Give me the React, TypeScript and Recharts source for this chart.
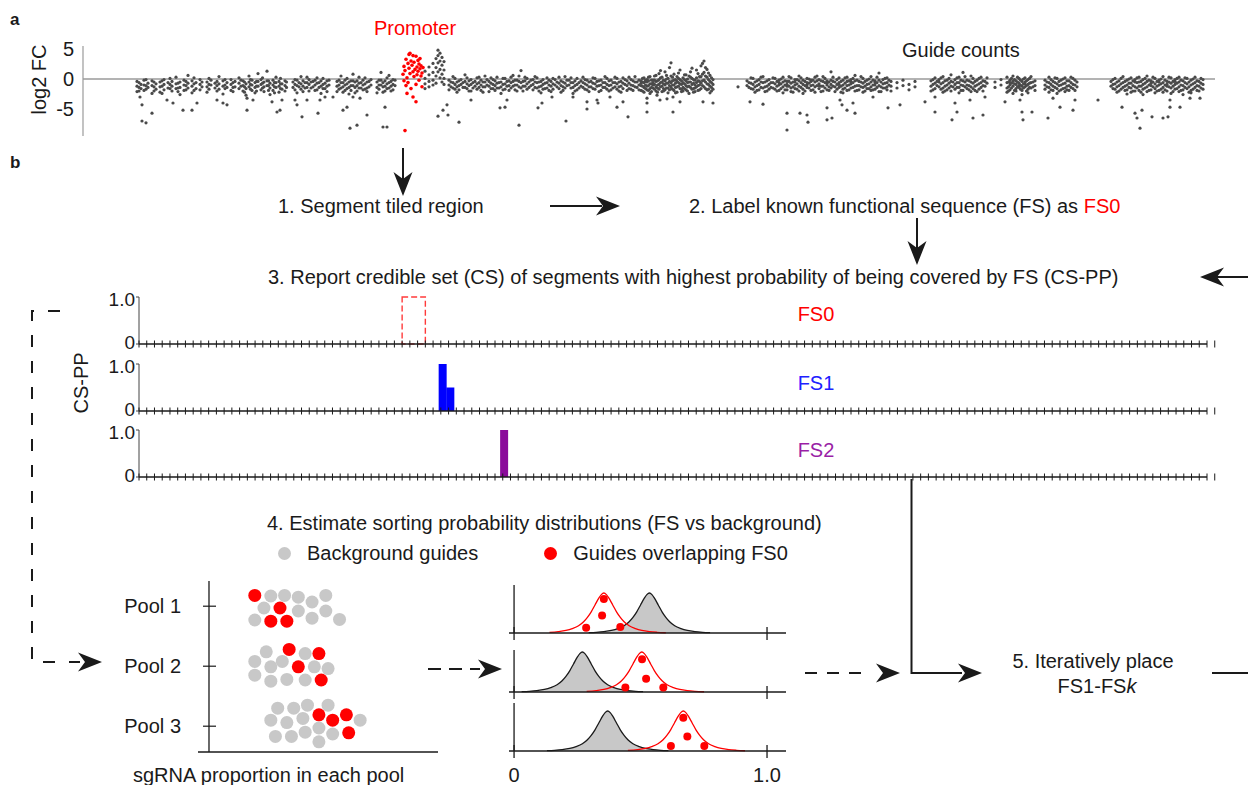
import React from 'react'
import {
  ScatterChart, Scatter, BarChart, Bar, ComposedChart, Area, Line,
  XAxis, YAxis, ReferenceLine, ReferenceArea, Legend,
} from 'recharts'

const FONT = "'Liberation Sans', Arial, Helvetica, sans-serif"
const INK = '#1a1a1a'
const RED = '#ff0000'
const GREY_DOT = '#4a4a4a'
const LIGHT = '#c8c8c8'

// a: guide log2 FC along the tiled region (position in kb), [pos, ...values]
const GUIDE_ROWS: number[][] = [
  [5.4,-0.4,-1.2,-2.1],[5.8,-0.9,-1.6],[6.1,-0.2,-1.0,-1.9],[6.5,-0.7,-1.4],[6.9,-0.3,-1.1,-2.4],[7.3,-0.8,-1.7],[7.7,-0.5,-1.3,-2.2],[8.1,-0.1,-0.9,-1.8],[8.5,-0.6,-1.5],[8.9,-0.4,-1.2,-2.0],[9.3,0.3,-0.8,-1.6],[9.7,-0.5,-1.4,-2.6],[10.1,-0.2,-1.0,-1.9],[10.5,0.6,-0.7,-1.5],[10.9,-0.3,-1.2,-2.3],[11.3,-0.6,-1.6],[11.7,-0.1,-0.9,-1.8],
  [12.4,-0.5,-1.3,-2.2],[12.8,-0.2,-1.0],[13.2,-0.7,-1.5],[13.6,0.4,-0.8,-1.7],[14.0,-0.3,-1.2,-2.5],[14.4,-0.6,-1.4],[14.8,-0.1,-0.9,-1.9],[15.2,-0.4,-1.3],[15.6,0.2,-0.7,-1.6],
  [16.0,-0.3,-1.1,-2.0],[16.3,-0.8,-1.6,-2.7],[16.6,0.5,-0.5,-1.3],[16.9,-0.2,-1.0,-1.9],[17.2,-0.6,-1.4,-2.3],[17.5,0.9,-0.4,-1.2],[17.8,-0.1,-0.9,-1.8],[18.1,-0.5,-1.3,-2.1],[18.4,1.3,-0.3,-1.1],[18.7,-0.7,-1.5,-2.6],[19.0,-0.2,-1.0,-1.9],[19.3,0.3,-0.6,-1.4],[19.6,-0.4,-1.2,-2.2],[19.9,-0.8,-1.7],[20.2,-0.3,-1.1,-2.0],
  [21.0,-0.5,-1.4],[21.4,-0.2,-1.1,-2.3],[21.8,0.4,-0.8,-1.7],[22.2,-0.6,-1.5],[22.6,-0.1,-0.9,-2.0],[23.0,-0.4,-1.3],[23.4,0.2,-0.7,-1.8],[23.8,-0.3,-1.2,-2.4],[24.2,-0.7,-1.6],[24.6,-0.2,-1.0],
  [25.4,-0.4,-1.2,-2.1],[25.8,0.5,-0.6,-1.5],[26.2,-0.2,-1.0,-1.9],[26.6,-0.5,-1.4,-2.5],[27.0,0.8,-0.3,-1.1],[27.4,-0.3,-1.1,-2.0],[27.8,-0.6,-1.5],[28.2,0.2,-0.8,-1.7],[28.6,-0.4,-1.3],
  [29.4,-0.5,-1.4,-2.3],[29.8,1.1,-0.2,-1.0],[30.2,-0.3,-1.2,-2.0],[30.6,0.6,-0.6,-1.5],[31.0,-0.1,-0.9,-1.8],
  [34.2,1.3,0.1,-0.8,-1.6],[34.6,2.0,0.7,-0.4,-1.3],[35.0,2.6,1.1,-0.2,-1.0],[35.3,3.4,1.9,0.5,-0.7],[35.5,4.8,3.9,2.7,1.2],[35.7,4.3,3.0,1.6,0.2],[35.9,3.6,2.3,0.8,-0.5],[36.1,2.9,1.5,0.1,-0.9],
  [36.6,-0.2,-1.0,-1.8],[37.0,0.4,-0.6,-1.5],[37.4,-0.5,-1.3,-2.2],[37.8,-0.1,-0.9],[38.2,0.7,-0.4,-1.4],[38.6,-0.3,-1.1,-2.0],[39.0,-0.6,-1.5],[39.4,0.2,-0.8,-1.7],[39.8,-0.2,-1.0,-1.9],[40.2,0.5,-0.5,-1.3],[40.6,-0.4,-1.2,-2.1],[41.0,-0.1,-0.9,-1.6],[41.4,0.3,-0.7,-1.5],[41.8,-0.5,-1.3,-2.4],[42.2,0.1,-0.8,-1.7],[42.6,-0.3,-1.1,-1.9],[43.0,0.6,-0.4,-1.2],[43.4,-0.2,-1.0,-2.0],[43.8,1.4,-0.6,-1.5],[44.2,0.3,-0.3,-1.2],[44.6,-0.5,-1.4],[45.0,-0.1,-0.9,-1.8],[45.4,0.2,-0.6,-1.5],[45.8,-0.4,-1.2,-2.3],[46.2,-0.7,-1.6],[46.6,-0.2,-1.0,-1.9],[47.0,0.1,-0.8,-1.7],[47.4,-0.5,-1.3],[47.8,-0.3,-1.1,-2.2],[48.2,0.4,-0.7,-1.5],[48.6,-0.2,-1.0],[49.0,-0.6,-1.4,-2.4],[49.4,0.1,-0.9,-1.8],[49.8,-0.3,-1.2],[50.2,-0.1,-0.8,-1.7],[50.6,-0.5,-1.3,-2.1],[51.0,0.2,-0.7,-1.6],[51.4,-0.4,-1.2],[51.8,-0.2,-1.0,-1.9],[52.2,0.4,-0.6,-1.4],[52.6,-0.3,-1.1,-2.0],[53.0,-0.6,-1.5],[53.4,0.1,-0.8,-1.7],[53.8,-0.4,-1.2,-2.2],[54.2,-0.1,-0.9],[54.6,0.3,-0.7,-1.6],[55.0,-0.3,-1.1,-1.9],[55.4,-0.5,-1.4],
  [55.8,-0.3,-1.1,-1.9,-0.7],[56.1,0.2,-0.6,-1.4,-2.2],[56.4,-0.5,-1.2,-0.1,-1.8],[56.7,0.4,-0.8,-1.6,-2.4],[57.0,-0.2,-1.0,-0.6,-1.5],[57.3,0.6,-0.4,-1.3,-2.0],[57.6,-0.1,-0.9,-1.7,0.9],[57.9,0.3,-0.5,-1.2,-2.1],[58.2,1.2,-0.3,-1.0,-1.8],[58.5,0.1,-0.7,-1.5,-2.3],[58.8,2.7,0.5,-0.6,-1.4],[59.1,-0.2,-1.0,-1.9,0.8],[59.4,0.4,-0.4,-1.3,-2.2],[59.7,-0.1,-0.8,-1.6,1.5],[60.0,0.2,-0.6,-1.4,-2.0],[60.3,-0.3,-1.1,-1.8,0.7],[60.6,0.5,-0.5,-1.2,-2.4],[60.9,1.8,0.1,-0.9,-1.7],[61.2,-0.2,-1.0,-1.5,-2.1],[61.5,0.9,-0.3,-1.1,-1.9],[61.8,2.2,0.4,-0.7,-1.6],[62.1,3.0,1.1,-0.2,-1.3],[62.4,1.6,0.3,-0.8,-1.8],[62.7,0.6,-0.4,-1.2,-2.3],[63.0,-0.1,-0.9,-1.7],
  [65.5,-1.3],
  [66.4,-0.3,-1.1],[66.8,0.2,-0.7,-1.6],[67.2,-0.5,-1.3,-2.2],[67.6,-0.1,-0.9,-1.8],[68.0,0.4,-0.6,-1.5],[68.4,-0.3,-1.2,-2.0],[68.8,-0.6,-1.4],[69.2,0.1,-0.8,-1.7],[69.6,-0.2,-1.0,-1.9,-0.6],[70.0,0.3,-0.5,-1.3,-2.3],[70.4,-0.4,-1.2,-1.8,-0.9],[70.8,0.2,-0.7,-1.5,-2.1],[71.2,-0.1,-1.0,-1.6,-0.5],[71.6,0.5,-0.3,-1.2,-2.0],[72.0,-0.2,-0.9,-1.7,-2.4],[72.4,0.1,-0.6,-1.4,-1.0],[72.8,-0.4,-1.1,-1.9,-0.2],[73.2,0.3,-0.5,-1.3,-2.2],[73.6,-0.1,-0.8,-1.6,-1.1],[74.0,0.4,-0.4,-1.2,-2.0],[74.4,-0.3,-1.0,-1.8,-0.7],[74.8,1.2,-0.2,-0.9,-1.5],[75.2,-0.5,-1.3,-2.1],[75.6,0.2,-0.6,-1.4,-0.9],[76.0,-0.2,-1.0,-1.7,-2.3],[76.4,0.3,-0.4,-1.1,-1.9],[76.8,-0.1,-0.8,-1.5,-0.5],[77.2,0.6,-0.3,-1.2,-2.0],[77.6,-0.4,-1.1,-1.8],[78.0,0.1,-0.7,-1.4,-2.2],[78.4,-0.2,-0.9,-1.6],[78.8,0.4,-0.5,-1.3,-1.9],[79.2,-0.3,-1.0,-1.7,-0.6],[79.6,1.0,-0.2,-1.1,-2.1],[80.0,-0.1,-0.8,-1.5],[80.4,0.2,-0.6,-1.3,-1.8],[80.8,-0.4,-1.2,-2.0],[81.4,-0.6,-1.5],[82.0,-0.2,-1.1],[82.6,-0.9,-1.8],[83.2,-0.4,-1.3],
  [84.8,-0.3,-1.2,-2.0],[85.2,0.2,-0.7,-1.6],[85.6,-0.5,-1.3,-0.1],[86.0,0.4,-0.6,-1.5,-2.2],[86.4,-0.2,-1.0,-1.8],[86.8,0.7,-0.4,-1.2,-2.0],[87.2,-0.1,-0.9,-1.7],[87.6,0.3,-0.6,-1.4,-2.3],[88.0,1.1,-0.3,-1.1,-1.9],[88.4,-0.2,-1.0,-1.6],[88.8,0.5,-0.5,-1.3,-2.1],[89.2,-0.4,-1.2,-1.9],[89.6,0.1,-0.8,-1.7],[90.0,-0.3,-1.1,-2.0],[90.4,0.2,-0.7],[91.2,-0.5,-1.4],[91.8,-0.1,-1.0],
  [92.4,0.3,-0.6,-1.5,-2.2],[92.7,-0.2,-1.0,-1.8,-0.6],[93.0,0.5,-0.4,-1.2,-2.4],[93.3,-0.3,-0.9,-1.6,-2.0],[93.6,0.1,-0.7,-1.4,-1.1],[93.9,-0.4,-1.2,-1.9,-2.6],[94.2,0.2,-0.5,-1.3,-0.8],[94.5,-0.1,-0.9,-1.7,-2.3],[94.8,0.4,-0.6,-1.5],[95.2,-0.3,-1.1,-1.9],
  [96.2,-0.2,-1.0,-1.7],[96.6,0.3,-0.6,-1.4,-2.2],[97.0,-0.4,-1.2,-1.9],[97.4,0.1,-0.8,-1.6,-2.4],[97.8,-0.2,-1.0,-1.8],[98.2,0.2,-0.7,-1.5,-2.1],[98.6,-0.3,-1.1,-1.9],[99.0,0.1,-0.9,-1.6],[99.4,-0.5,-1.3],
  [102.8,-0.4,-1.2],[103.2,0.1,-0.8,-1.7],[103.6,-0.3,-1.1,-2.0],[104.0,0.4,-0.6,-1.4],[104.4,-0.2,-1.0,-1.8,-2.5],[104.8,0.2,-0.7,-1.5,-2.2],[105.2,-0.5,-1.3,-2.0,-0.1],[105.6,0.3,-0.5,-1.2,-1.9],[106.0,-0.1,-0.9,-1.7,-2.6],[106.4,0.5,-0.4,-1.3,-2.1],[106.8,-0.3,-1.1,-1.8,-0.7],[107.2,0.1,-0.8,-1.6,-2.3],[107.6,-0.2,-1.0,-1.9,-0.5],[108.0,0.4,-0.6,-1.4,-2.2],[108.4,-0.4,-1.2,-2.0,-0.9],[108.8,0.2,-0.7,-1.5,-2.4],[109.2,-0.1,-0.9,-1.7,-0.4],[109.6,0.3,-0.5,-1.3,-2.1],[110.0,-0.3,-1.1,-1.8,-2.6],[110.4,0.1,-0.8,-1.6],[110.8,-0.2,-1.0,-1.9,-2.3],[111.2,0.3,-0.6,-1.4],[111.6,-0.4,-1.2,-2.0],[112.0,-0.1,-0.9,-1.7],
]

// guides lying between the rows above, same layout
const GUIDE_ROWS_B: number[][] = [
  [5.6,-0.6,-1.4,-2.0],[6.3,-0.1,-1.1,-1.7],[7.1,-0.5,-1.3,-2.0],[7.9,-0.3,-1.2,-2.4],[8.7,0.1,-0.9,-1.6],[9.5,-0.7,-1.5,-2.1],[10.3,-0.4,-1.1,-1.8],[11.1,0.2,-0.8,-1.9],[11.9,-0.5,-1.3],
  [12.6,0.1,-0.9,-1.7],[13.4,-0.4,-1.1,-2.0],[14.2,-0.1,-1.0,-1.6],[15.0,-0.6,-1.4,-2.1],[15.8,-0.2,-1.2],
  [16.15,-0.5,-1.3,-2.2],[16.75,-0.1,-0.9,-1.7],[17.35,-0.4,-1.2,-2.0],[17.95,0.2,-0.7,-1.5],[18.55,-0.3,-1.1,-1.9],[19.15,-0.6,-1.3,-2.3],[19.75,0.1,-0.8,-1.6],[20.35,-0.5,-1.4],
  [21.2,-0.1,-0.9,-1.8],[21.6,-0.6,-1.3],[22.0,-0.3,-1.2,-2.1],[22.4,0.3,-0.6,-1.4],[22.8,-0.5,-1.5],[23.2,-0.2,-1.0,-1.9],[23.6,-0.6,-1.4],[24.0,0.1,-0.9,-1.6],[24.4,-0.3,-1.2,-2.1],
  [25.6,-0.2,-1.0,-1.7],[26.0,-0.6,-1.3,-2.2],[26.4,0.1,-0.8,-1.6],[26.8,-0.3,-1.1,-1.9],[27.2,-0.5,-1.4,-2.3],[27.6,0.3,-0.7,-1.5],[28.0,-0.2,-1.0,-1.8],[28.4,-0.5,-1.5,-2.1],[28.8,-0.1,-1.0],
  [29.6,-0.2,-1.0,-1.7],[30.0,-0.6,-1.3,-2.2],[30.4,0.2,-0.8,-1.6],[30.8,-0.4,-1.2,-2.0],[31.2,-0.2,-1.1],
  [36.8,-0.5,-1.3],[37.2,0.1,-0.9,-1.7],[37.6,-0.3,-1.1,-1.8],[38.0,-0.6,-1.4],[38.4,0.2,-0.8,-1.6],[38.8,-0.1,-0.9,-2.0],[39.2,-0.4,-1.2],[39.6,0.3,-0.6,-1.4],[40.0,-0.5,-1.3,-2.2],[40.4,-0.1,-1.0],[40.8,0.2,-0.7,-1.6],[41.2,-0.3,-1.1,-1.9],[41.6,-0.6,-1.5],[42.0,0.1,-0.9,-1.8],[42.4,-0.4,-1.2],[42.8,0.3,-0.6,-1.5],[43.2,-0.2,-1.0,-1.8],[43.6,0.5,-0.4,-1.3],[44.0,-0.4,-1.2,-2.0],[44.4,0.1,-0.8,-1.7],[44.8,-0.2,-1.1],[45.2,0.4,-0.5,-1.4],[45.6,-0.5,-1.3,-2.0],[46.0,-0.1,-0.9,-1.7],[46.4,0.2,-0.6,-1.5],[46.8,-0.4,-1.2,-2.1],[47.2,-0.1,-1.0],[47.6,0.3,-0.7,-1.6],[48.0,-0.5,-1.3,-1.9],[48.4,-0.2,-1.1],[48.8,0.2,-0.6,-1.5],[49.2,-0.3,-1.1,-2.0],[49.6,-0.6,-1.5],[50.0,0.3,-0.6,-1.4],[50.4,-0.2,-1.0,-1.8],[50.8,-0.4,-1.3],[51.2,0.1,-0.8,-1.7],[51.6,-0.3,-1.1,-2.1],[52.0,-0.6,-1.4],[52.4,0.1,-0.9,-1.7],[52.8,-0.2,-1.0,-1.8],[53.2,0.3,-0.6,-1.3],[53.6,-0.5,-1.3,-2.0],[54.0,0.2,-0.7,-1.6],[54.4,-0.3,-1.1,-1.9],[54.8,-0.1,-1.0,-1.7],[55.2,0.4,-0.5,-1.3],[55.6,-0.2,-1.0,-1.8],
  [55.95,0.1,-0.5,-1.2,-2.0],[56.25,-0.4,-1.0,-1.6,-0.2],[56.55,0.3,-0.3,-1.1,-1.9],[56.85,-0.2,-0.8,-1.4,-2.1],[57.15,0.5,-0.2,-0.9,-1.7],[57.45,-0.3,-1.0,-1.5,-2.2],[57.75,1.4,0.2,-0.6,-1.3],[58.05,-0.2,-0.8,-1.6,-2.0],[58.35,0.6,0.0,-0.7,-1.5],[58.65,1.9,-0.4,-1.1,-1.8],[58.95,0.3,-0.3,-1.0,-1.7],[59.25,-0.1,-0.7,-1.4,-2.3],[59.55,1.0,0.1,-0.6,-1.2],[59.85,-0.3,-0.9,-1.7,-2.1],[60.15,0.7,-0.1,-0.8,-1.6],[60.45,0.0,-0.6,-1.3,-2.0],[60.75,1.2,0.3,-0.5,-1.4],[61.05,-0.1,-0.7,-1.6,-2.2],[61.35,1.5,0.2,-0.6,-1.3],[61.65,0.4,-0.4,-1.0,-1.8],[61.95,2.6,0.8,-0.3,-1.1],[62.25,1.9,0.5,-0.5,-1.6],[62.55,1.0,-0.1,-0.9,-1.7],[62.85,0.2,-0.6,-1.4,-2.0],
  [66.6,-0.6,-1.4],[67.0,0.1,-0.9,-1.7],[67.4,-0.3,-1.1,-1.9],[67.8,0.3,-0.5,-1.4],[68.2,-0.5,-1.3,-2.1],[68.6,-0.1,-0.9,-1.7],[69.0,0.2,-0.6,-1.5],[69.4,-0.4,-1.2,-2.0],[69.8,0.0,-0.8,-1.6],[70.2,-0.3,-1.0,-1.8],[70.6,0.4,-0.4,-1.2],[71.0,-0.5,-1.3,-2.2],[71.4,-0.1,-0.8,-1.7],[71.8,0.2,-0.6,-1.4],[72.2,-0.4,-1.1,-2.0],[72.6,0.0,-0.7,-1.5],[73.0,-0.2,-1.0,-1.8],[73.4,0.5,-0.3,-1.1],[73.8,-0.3,-1.2,-2.1],[74.2,0.1,-0.6,-1.5],[74.6,-0.5,-1.3,-1.9],[75.0,0.3,-0.4,-1.2],[75.4,-0.1,-0.9,-1.7],[75.8,-0.4,-1.2,-2.2],[76.2,0.2,-0.7,-1.5],[76.6,-0.3,-1.0,-1.8],[77.0,0.1,-0.6,-1.4],[77.4,-0.2,-1.1,-1.9],[77.8,0.4,-0.5,-1.3],[78.2,-0.4,-1.2,-2.0],[78.6,0.0,-0.8,-1.6],[79.0,-0.2,-1.0,-1.8],[79.4,0.3,-0.6,-1.4],[79.8,-0.5,-1.3,-2.1],[80.2,0.1,-0.7,-1.5],[80.6,-0.2,-1.0],
  [85.0,-0.1,-0.9,-1.8],[85.4,-0.4,-1.1],[85.8,0.2,-0.8,-1.7],[86.2,-0.3,-1.2,-2.0],[86.6,0.1,-0.7,-1.5],[87.0,-0.5,-1.3],[87.4,0.2,-0.6,-1.4],[87.8,-0.2,-1.0,-1.9],[88.2,0.4,-0.5,-1.3],[88.6,-0.3,-1.1,-1.8],[89.0,0.1,-0.7,-1.6],[89.4,-0.2,-1.0,-2.1],[89.8,0.3,-0.6,-1.4],[90.2,-0.4,-1.2],
  [92.55,-0.5,-1.3,-2.0],[92.85,0.1,-0.7,-1.5],[93.15,-0.1,-0.8,-1.9],[93.45,0.3,-0.5,-1.3],[93.75,-0.2,-1.0,-1.7],[94.05,0.0,-0.8,-1.5],[94.35,-0.3,-1.1,-2.0],[94.65,0.1,-0.7,-1.4],[95.0,-0.5,-1.3],
  [96.4,-0.5,-1.3],[96.8,-0.1,-0.9,-1.8],[97.2,0.2,-0.6,-1.4],[97.6,-0.4,-1.1,-2.0],[98.0,0.0,-0.8,-1.6],[98.4,-0.3,-1.2,-1.8],[98.8,0.3,-0.6,-1.4],[99.2,-0.2,-1.0,-1.9],
  [103.0,-0.1,-0.9,-1.6],[103.4,-0.5,-1.3,-2.2],[103.8,0.1,-0.8,-1.7],[104.2,-0.4,-1.2,-1.9],[104.6,0.0,-0.7,-1.4],[105.0,-0.3,-1.1,-2.0],[105.4,0.2,-0.6,-1.5],[105.8,-0.4,-1.2,-2.2],[106.2,0.1,-0.7,-1.5],[106.6,-0.2,-1.0,-1.9],[107.0,0.3,-0.5,-1.3],[107.4,-0.4,-1.2,-2.0],[107.8,0.0,-0.8,-1.7],[108.2,-0.2,-1.0,-1.8],[108.6,0.3,-0.5,-1.3],[109.0,-0.4,-1.2,-2.1],[109.4,0.1,-0.7,-1.6],[109.8,-0.2,-1.0,-1.9],[110.2,0.2,-0.6,-1.4],[110.6,-0.5,-1.3,-2.2],[111.0,0.0,-0.8,-1.7],[111.4,-0.3,-1.1,-1.9],[111.8,0.1,-0.7,-1.5],
]

// strongly depleted guides, [pos, value]
const GUIDE_OUTLIERS: number[][] = [
  [5.7,-3.0],[5.9,-4.3],[5.9,-7.0],[6.3,-7.3],[6.9,-5.7],[8.4,-3.5],[9.0,-4.0],[10.0,-5.2],[10.9,-5.2],[11.4,-4.0],[13.4,-3.5],[14.0,-4.0],[14.4,-4.3],[16.4,-3.2],[16.4,-5.2],[17.0,-3.5],[18.9,-3.8],[19.4,-5.5],[19.7,-5.2],[19.9,-3.5],[21.2,-3.5],[21.4,-4.3],[21.9,-6.3],[22.4,-3.5],[23.5,-5.7],[23.7,-3.5],[24.2,-3.0],[25.0,-3.0],[26.0,-5.2],[26.4,-4.7],[26.7,-8.2],[27.4,-7.7],[27.0,-3.0],[27.7,-3.2],[28.4,-6.0],[30.0,-8.0],[30.4,-8.0],[30.2,-4.7],
  [36.0,-5.2],[35.5,-6.2],[36.5,-6.0],[36.4,-4.3],[37.6,-7.2],[38.8,-3.5],[41.7,-4.8],[42.2,-4.7],[42.4,-3.5],[43.6,-7.7],[45.5,-4.8],[45.9,-4.0],[46.9,-3.0],[48.3,-7.0],[49.0,-3.0],[50.4,-3.8],[50.4,-5.0],[51.4,-3.5],[51.5,-4.0],[52.7,-3.0],[53.4,-4.7],[54.0,-3.8],[54.5,-6.3],[56.4,-3.2],[56.4,-4.0],[56.4,-5.5],[57.4,-2.7],[57.7,-3.5],[58.4,-3.3],[59.0,-5.5],[59.0,-3.0],[59.7,-3.8],[62.0,-3.8],[63.0,-4.0],
  [66.7,-3.8],[68.0,-4.2],[70.4,-5.7],[70.4,-8.5],[71.7,-5.7],[72.5,-7.2],[72.4,-6.0],[74.4,-4.8],[74.4,-6.8],[74.9,-6.5],[75.7,-3.5],[75.9,-4.3],[76.4,-5.2],[77.0,-4.0],[77.2,-5.7],[79.0,-3.0],[80.5,-4.8],[81.7,-4.3],[84.2,-3.8],[85.2,-5.5],[85.2,-3.0],[86.9,-6.8],[87.2,-4.0],[87.4,-5.5],[89.0,-6.5],[88.7,-3.5],[90.0,-6.0],[90.2,-3.0],[92.2,-3.8],[93.7,-3.5],[93.9,-5.5],[94.0,-6.8],[94.9,-5.5],[96.5,-6.5],[97.0,-3.2],[97.7,-4.7],[99.0,-5.2],[99.2,-3.5],[101.5,-3.5],
  [103.9,-4.7],[105.2,-5.7],[105.4,-6.5],[105.9,-5.2],[105.7,-8.2],[106.9,-6.3],[108.0,-6.5],[108.5,-6.3],[108.7,-4.7],[109.7,-4.7],[108.7,-3.5],[110.7,-3.2],[111.7,-3.2],
]

// guides in the promoter, [pos, value]
const PROMOTER_GUIDES: number[][] = [
  [32.0,0.8],[32.1,-0.3],[32.1,2.1],[32.2,1.4],[32.3,-1.1],[32.3,3.3],[32.4,0.2],[32.5,2.6],[32.5,-0.6],[32.6,1.8],[32.6,4.1],[32.7,0.9],[32.7,4.3],[32.8,3.0],[32.8,-1.6],[32.9,2.3],[33.0,1.2],[33.0,3.9],[33.1,0.4],[33.1,2.8],[33.2,1.6],[33.3,3.8],[33.3,-0.9],[33.4,2.0],[33.4,0.7],[33.5,3.1],[33.5,1.3],[33.6,-0.2],[33.6,2.5],[33.7,1.7],[33.7,3.4],[33.8,0.5],[33.8,2.2],[33.9,1.0],[33.9,-1.3],[34.0,1.9],[32.4,-2.4],[33.0,-3.0],[33.3,-3.8],[32.2,-8.6],
]

const LOG2FC_TICKS = [-5, 0, 5]

// step 3: credible-set posterior probability per segment
const SEGMENT_COUNT = 139
const FS0_SEGMENTS = [34, 35, 36]
const FS1_PP: number[][] = [[39, 1.0], [40, 0.5]]
const FS2_PP: number[][] = [[47, 1.0]]
const PP_TICKS = [0, 1]

// step 4: guides in each sorting pool, [proportion, pool]
const POOLS = [1, 2, 3]
const BG_GUIDES: number[][] = [
  [0.27,0.83],[0.33,0.82],[0.39,0.85],[0.45,0.93],[0.51,0.82],[0.24,1.03],[0.39,1.08],[0.51,1.08],[0.2,1.23],[0.45,1.2],[0.57,1.22],
  [0.25,1.76],[0.42,1.79],[0.2,1.92],[0.27,2.01],[0.32,1.92],[0.46,2.01],[0.52,2.04],[0.2,2.15],[0.27,2.25],[0.34,2.22],[0.42,2.23],
  [0.3,2.7],[0.37,2.7],[0.43,2.65],[0.52,2.65],[0.27,2.9],[0.34,2.94],[0.41,2.87],[0.66,2.9],[0.29,3.17],[0.36,3.17],[0.42,3.1],[0.48,3.03],[0.54,3.13],[0.48,3.26],
]
const FS0_GUIDES: number[][] = [
  [0.2,0.82],[0.31,1.03],[0.27,1.25],[0.34,1.25],
  [0.35,1.72],[0.48,1.79],[0.39,2.01],[0.49,2.23],
  [0.48,2.81],[0.54,2.9],[0.6,2.81],[0.61,3.11],
]

// step 4: fitted sorting distributions per pool, [proportion, density]
const BG_CURVE_1: number[][] = [[0.295,0.008],[0.325,0.018],[0.355,0.035],[0.385,0.065],[0.41,0.11],[0.435,0.18],[0.455,0.28],[0.47,0.39],[0.485,0.53],[0.5,0.7],[0.515,0.87],[0.525,0.96],[0.535,1],[0.545,0.96],[0.555,0.87],[0.57,0.7],[0.585,0.53],[0.6,0.39],[0.615,0.28],[0.635,0.18],[0.66,0.11],[0.685,0.065],[0.715,0.035],[0.745,0.018],[0.775,0.008]]
const FS_CURVE_1: number[][] = [[0.14,0.015],[0.175,0.035],[0.205,0.065],[0.23,0.11],[0.255,0.18],[0.275,0.28],[0.29,0.39],[0.305,0.53],[0.32,0.7],[0.335,0.87],[0.345,0.96],[0.355,1],[0.365,0.96],[0.375,0.87],[0.39,0.7],[0.405,0.53],[0.42,0.39],[0.435,0.28],[0.455,0.18],[0.48,0.11],[0.505,0.065],[0.535,0.035],[0.565,0.018],[0.6,0.006]]
const FS_DOTS_1: number[][] = [[0.355,0.85],[0.348,0.44],[0.285,0.13],[0.42,0.15]]

const BG_CURVE_2: number[][] = [[0.03,0.008],[0.06,0.018],[0.09,0.035],[0.12,0.065],[0.145,0.11],[0.17,0.18],[0.19,0.28],[0.205,0.39],[0.22,0.53],[0.235,0.7],[0.25,0.87],[0.26,0.96],[0.27,1],[0.28,0.96],[0.29,0.87],[0.305,0.7],[0.32,0.53],[0.335,0.39],[0.35,0.28],[0.37,0.18],[0.395,0.11],[0.42,0.065],[0.45,0.035],[0.48,0.018],[0.51,0.008]]
const FS_CURVE_2: number[][] = [[0.287,0.015],[0.325,0.035],[0.355,0.065],[0.38,0.11],[0.405,0.18],[0.425,0.28],[0.44,0.39],[0.455,0.53],[0.47,0.7],[0.485,0.87],[0.495,0.96],[0.505,1],[0.515,0.96],[0.525,0.87],[0.54,0.7],[0.555,0.53],[0.57,0.39],[0.585,0.28],[0.605,0.18],[0.63,0.11],[0.655,0.065],[0.685,0.035],[0.715,0.018],[0.751,0.006]]
const FS_DOTS_2: number[][] = [[0.506,0.82],[0.522,0.33],[0.44,0.11],[0.59,0.11]]

const BG_CURVE_3: number[][] = [[0.13,0.008],[0.16,0.018],[0.19,0.035],[0.22,0.065],[0.245,0.11],[0.27,0.18],[0.29,0.28],[0.305,0.39],[0.32,0.53],[0.335,0.7],[0.35,0.87],[0.36,0.96],[0.37,1],[0.38,0.96],[0.39,0.87],[0.405,0.7],[0.42,0.53],[0.435,0.39],[0.45,0.28],[0.47,0.18],[0.495,0.11],[0.52,0.065],[0.55,0.035],[0.58,0.018],[0.61,0.008]]
const FS_CURVE_3: number[][] = [[0.45,0.015],[0.489,0.035],[0.519,0.065],[0.544,0.11],[0.569,0.18],[0.589,0.28],[0.604,0.39],[0.619,0.53],[0.634,0.7],[0.649,0.87],[0.659,0.96],[0.669,1],[0.679,0.96],[0.689,0.87],[0.704,0.7],[0.719,0.53],[0.734,0.39],[0.749,0.28],[0.769,0.18],[0.794,0.11],[0.819,0.065],[0.849,0.035],[0.879,0.018],[0.913,0.006]]
const FS_DOTS_3: number[][] = [[0.669,0.83],[0.685,0.36],[0.62,0.125],[0.752,0.125]]

const DENSITY_TICKS = [0, 1]

const toXY = (rows: number[][]) => rows.map(([x, y]) => ({ x, y }))
const fromRows = (rows: number[][]) =>
  rows.flatMap(([pos, ...vals]) => vals.map((v) => ({ x: pos, y: v })))

const guidePoints = [...fromRows(GUIDE_ROWS), ...fromRows(GUIDE_ROWS_B), ...toXY(GUIDE_OUTLIERS)]
const promoterPoints = toXY(PROMOTER_GUIDES)

const segments = Array.from({ length: SEGMENT_COUNT }, (_, i) => i)
const gridTicks = Array.from({ length: SEGMENT_COUNT + 1 }, (_, i) => i)
const ppData = (pp: number[][]) =>
  segments.map((s) => ({ seg: s, pp: pp.find((r) => r[0] === s)?.[1] ?? 0 }))

const dot = (r: number, fill: string) => (p: any) =>
  <circle cx={p.cx} cy={p.cy} r={r} fill={fill} />

const CrossTick = (p: any) => (
  <line x1={p.x} x2={p.x} y1={p.y - 3.5} y2={p.y + 3.5} stroke={INK} strokeWidth={1} />
)

// the stacked panels sit close, so nudge 0 up and 1.0 down a little
const PPTick = (p: any) => (
  <text x={p.x} y={p.y} dy={p.payload.value === 0 ? '0.25em' : '0.46em'} textAnchor="end"
    fontSize={19} fill={INK} fontFamily={FONT}>
    {p.payload.value === 0 ? '0' : p.payload.value.toFixed(1)}
  </text>
)

function GuideScatter() {
  return (
    <ScatterChart width={1248} height={140} margin={{ top: 46, right: 33, bottom: 4, left: 43 }}>
      <XAxis type="number" dataKey="x" domain={[0, 113.2]} hide />
      <YAxis
        type="number" dataKey="y" width={40} domain={[-9.5, 5.5]} ticks={LOG2FC_TICKS} interval={0}
        tickLine={false} tickMargin={3} axisLine={{ stroke: '#9a9a9a', strokeWidth: 1.2 }}
        tick={{ fontSize: 20, fill: INK, fontFamily: FONT }}
      />
      <ReferenceLine y={0} stroke="#9a9a9a" strokeWidth={1.5} />
      <Scatter data={guidePoints} shape={dot(1.6, GREY_DOT)} isAnimationActive={false} />
      <Scatter data={promoterPoints} shape={dot(1.8, RED)} isAnimationActive={false} />
    </ScatterChart>
  )
}

// plot area of each CS-PP panel: top at `top`, 47px tall
function PPPanel({ top, pp, color, known }: { top: number; pp: number[][]; color: string; known?: number[] }) {
  return (
    <div style={{ position: 'absolute', left: 0, top: top - 14 }}>
      <BarChart width={1248} height={82} data={ppData(pp)} barCategoryGap={0} barGap={0}
        margin={{ top: 14, right: 41, bottom: 15, left: 79 }}>
        <XAxis xAxisId="seg" dataKey="seg" hide />
        <XAxis xAxisId="grid" type="number" domain={[0, SEGMENT_COUNT]} ticks={gridTicks} interval={0}
          height={6} tickSize={0} tickMargin={0} tick={CrossTick} tickLine={false}
          axisLine={{ stroke: INK, strokeWidth: 1.6 }} />
        <YAxis domain={[0, 1]} ticks={PP_TICKS} interval={0} width={60} tickSize={3} tickMargin={1}
          axisLine={{ stroke: '#444', strokeWidth: 1 }} tickLine={{ stroke: '#444' }} tick={PPTick} />
        {known && (
          <ReferenceArea xAxisId="grid" x1={known[0]} x2={known[known.length - 1] + 1} y1={0} y2={1}
            fill="none" stroke="#ff3b3b" strokeWidth={1.4} strokeDasharray="6 3" />
        )}
        <Bar xAxisId="seg" dataKey="pp" fill={color} isAnimationActive={false} />
      </BarChart>
    </div>
  )
}

function PoolChart() {
  const poolTick = (p: any) => (
    <g>
      <line x1={p.x + 5} x2={p.x + 18} y1={p.y} y2={p.y} stroke={INK} strokeWidth={1.2} />
      <text x={p.x - 17} y={p.y} dy="0.35em" textAnchor="end" fontSize={20} fill={INK} fontFamily={FONT}>
        Pool {p.payload.value}
      </text>
    </g>
  )
  return (
    <div style={{ position: 'absolute', left: 100, top: 575 }}>
      <ScatterChart width={340} height={178} margin={{ top: 6, right: 2, bottom: 0, left: 18 }}>
        <XAxis type="number" dataKey="x" domain={[-0.048, 1]} height={1} tick={false} tickLine={false}
          axisLine={{ stroke: INK, strokeWidth: 1.3 }} />
        <YAxis type="number" dataKey="y" domain={[0.58, 3.43]} reversed ticks={POOLS} interval={0} width={80}
          tickSize={0} tickMargin={0} tick={poolTick} axisLine={false} tickLine={false} />
        <ReferenceLine x={0} stroke={INK} strokeWidth={1.3} />
        <Legend
          verticalAlign="middle" align="center"
          wrapperStyle={{ position: 'absolute', left: 178, top: -34, width: 600, height: 24 }}
          content={({ payload }: any) => (
            <div style={{ display: 'flex', alignItems: 'center', fontSize: 20, fontFamily: FONT, color: INK, lineHeight: '24px' }}>
              {(payload ?? []).map((item: any, i: number) => (
                <div key={i} style={{ display: 'flex', alignItems: 'center', marginRight: 66 }}>
                  <span style={{ display: 'inline-block', width: 13, height: 13, borderRadius: '50%', background: item.color, marginRight: 16 }} />
                  {item.value}
                </div>
              ))}
            </div>
          )}
        />
        <Scatter name="Background guides" data={toXY(BG_GUIDES)} fill={LIGHT} shape={dot(6.5, LIGHT)} isAnimationActive={false} />
        <Scatter name="Guides overlapping FS0" data={toXY(FS0_GUIDES)} fill={RED} shape={dot(6.5, RED)} isAnimationActive={false} />
      </ScatterChart>
    </div>
  )
}

function DensityPanel({ top, plotHeight, yMax, bg, fs, dots, labels }: {
  top: number; plotHeight: number; yMax: number; bg: number[][]; fs: number[][]; dots: number[][]; labels?: boolean
}) {
  const axisH = labels ? 34 : 10
  const tick = (p: any) => (
    <g>
      <line x1={p.x} x2={p.x} y1={p.y - 6} y2={p.y + 7} stroke={INK} strokeWidth={1.3} />
      {labels && (
        <text x={p.x} y={p.y + 31} textAnchor="middle" fontSize={20} fill={INK} fontFamily={FONT}>
          {p.payload.value === 0 ? '0' : p.payload.value.toFixed(1)}
        </text>
      )}
    </g>
  )
  return (
    <div style={{ position: 'absolute', left: 480, top }}>
      <ComposedChart width={320} height={5 + plotHeight + axisH} margin={{ top: 5, right: 14, bottom: 0, left: 29 }}>
        <XAxis type="number" dataKey="x" domain={[-0.02, 1.075]} ticks={DENSITY_TICKS} interval={0}
          height={axisH} tickSize={0} tickMargin={0} tick={tick} tickLine={false}
          axisLine={{ stroke: INK, strokeWidth: 1.3 }} allowDataOverflow />
        <YAxis type="number" domain={[0, yMax]} hide />
        <ReferenceLine x={0} stroke={INK} strokeWidth={1.3} />
        <Area data={toXY(bg)} dataKey="y" type="monotone" fill={LIGHT} fillOpacity={1}
          stroke={INK} strokeWidth={1.3} isAnimationActive={false} />
        <Line data={toXY(fs)} dataKey="y" type="monotone" stroke={RED} strokeWidth={1.3}
          dot={false} isAnimationActive={false} />
        <Scatter data={toXY(dots)} dataKey="y" shape={dot(4, RED)} isAnimationActive={false} />
      </ComposedChart>
    </div>
  )
}

const Head = ({ x, y, angle = 0 }: { x: number; y: number; angle?: number }) => (
  <path d={`M${x} ${y} L${x - 24} ${y - 9.5} L${x - 17} ${y} L${x - 24} ${y + 9.5} Z`}
    fill={INK} transform={`rotate(${angle} ${x} ${y})`} />
)

function Annotations() {
  const solid = { stroke: INK, strokeWidth: 2, fill: 'none' }
  const dashed = { ...solid, strokeDasharray: '12 14' }
  return (
    <svg width={1248} height={785} style={{ position: 'absolute', left: 0, top: 0, pointerEvents: 'none' }}
      fontFamily={FONT} fontSize={20} fill={INK}>
      <text x={10} y={25} fontSize={17} fontWeight="bold">a</text>
      <text x={10} y={168} fontSize={17} fontWeight="bold">b</text>
      <text x={415} y={35} textAnchor="middle" fill={RED}>Promoter</text>
      <text x={902} y={57}>Guide counts</text>
      <text transform="translate(46 79.5) rotate(-90)" textAnchor="middle">log2 FC</text>

      <line x1={403} y1={148} x2={403} y2={180} {...solid} />
      <Head x={403} y={196} angle={90} />
      <text x={278} y={213}>1. Segment tiled region</text>
      <line x1={550} y1={206} x2={602} y2={206} {...solid} />
      <Head x={620} y={206} />
      <text x={689} y={213}>2. Label known functional sequence (FS) as <tspan fill={RED}>FS0</tspan></text>
      <line x1={917} y1={218} x2={917} y2={250} {...solid} />
      <Head x={917} y={265} angle={90} />
      <text x={268} y={284}>3. Report credible set (CS) of segments with highest probability of being covered by FS (CS-PP)</text>
      <line x1={1248} y1={277} x2={1215} y2={277} {...solid} />
      <Head x={1200} y={277} angle={180} />

      <text transform="translate(88 383) rotate(-90)" textAnchor="middle">CS-PP</text>
      <text x={816} y={321} textAnchor="middle" fill={RED}>FS0</text>
      <text x={816} y={390} textAnchor="middle" fill="#2020ff">FS1</text>
      <text x={816} y={457} textAnchor="middle" fill="#9a1fa6">FS2</text>

      <path d="M60 311 H32 V662 H80" {...dashed} />
      <Head x={102} y={662} />

      <text x={267} y={530}>4. Estimate sorting probability distributions (FS vs background)</text>
      <line x1={428} y1={669} x2={480} y2={669} {...dashed} strokeDasharray="13 8" />
      <Head x={502} y={669} />
      <text x={133} y={782}>sgRNA proportion in each pool</text>

      <line x1={805} y1={673} x2={866} y2={673} {...dashed} strokeDasharray="12 10" />
      <Head x={900} y={673} />
      <path d="M911.5 479 V673 H962" {...solid} />
      <Head x={982} y={673} />
      <text x={1093} y={668} textAnchor="middle">5. Iteratively place</text>
      <text x={1097} y={693} textAnchor="middle">FS1-FS<tspan fontStyle="italic">k</tspan></text>
      <line x1={1212} y1={673} x2={1248} y2={673} {...solid} />
    </svg>
  )
}

export default function App() {
  return (
    <div style={{ position: 'absolute', left: 0, top: 0, width: 1248, height: 785, background: '#fff', overflow: 'hidden', fontFamily: FONT }}>
      <div style={{ position: 'absolute', left: 0, top: 0 }}>
        <GuideScatter />
      </div>
      <PPPanel top={297} pp={[]} color={RED} known={FS0_SEGMENTS} />
      <PPPanel top={364} pp={FS1_PP} color="#0000ff" />
      <PPPanel top={430} pp={FS2_PP} color="#8a0a9a" />
      <PoolChart />
      <DensityPanel top={580} plotHeight={48} yMax={1.2} bg={BG_CURVE_1} fs={FS_CURVE_1} dots={FS_DOTS_1} />
      <DensityPanel top={645} plotHeight={42} yMax={1.05} bg={BG_CURVE_2} fs={FS_CURVE_2} dots={FS_DOTS_2} />
      <DensityPanel top={698} plotHeight={48} yMax={1.2} bg={BG_CURVE_3} fs={FS_CURVE_3} dots={FS_DOTS_3} labels />
      <Annotations />
    </div>
  )
}
